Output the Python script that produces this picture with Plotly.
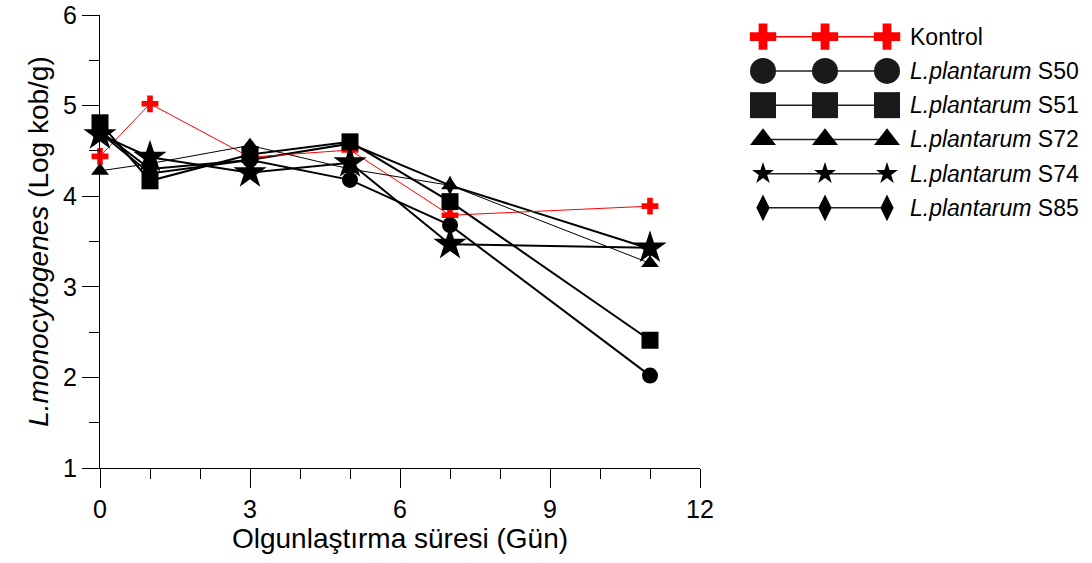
import plotly.graph_objects as go

# ---- data ----
days = [0, 1, 3, 5, 7, 11]
kontrol = [4.44, 5.02, 4.43, 4.51, 3.79, 3.89]
s50 = [4.70, 4.25, 4.40, 4.18, 3.68, 2.02]
s51 = [4.81, 4.17, 4.46, 4.60, 3.94, 2.41]
s72 = [4.28, 4.36, 4.56, 4.30, 4.12, 3.26]
s74 = [4.68, 4.43, 4.26, 4.37, 3.47, 3.43]
s85 = [4.72, 4.30, 4.40, 4.58, 4.12, 3.42]

series_names = ["Kontrol", "<i>L.plantarum</i> S50", "<i>L.plantarum</i> S51",
                "<i>L.plantarum</i> S72", "<i>L.plantarum</i> S74", "<i>L.plantarum</i> S85"]
series_values = [kontrol, s50, s51, s72, s74, s85]

x_ticks = [0, 3, 6, 9, 12]
y_ticks = [1, 2, 3, 4, 5, 6]

# ---- styles ----
colors = ["#ff0000", "#000000", "#000000", "#000000", "#000000", "#000000"]
symbols = ["cross", "circle", "square", "triangle-up", "star", "diamond-tall"]
plot_sizes = [14, 16, 17, 15.5, 25, 14]
plot_widths = [1, 2, 2, 1, 2, 2]
legend_sizes = [22, 26, 26, 22.5, 16.5, 19]
legend_line_colors = ["#ff0000", "#222222", "#222222", "#222222", "#222222", "#222222"]
legend_marker_colors = ["#ff0000", "#1a1a1a", "#1a1a1a", "#000000", "#000000", "#000000"]
draw_order = [5, 0, 3, 1, 2, 4]

FONT = "Liberation Sans, Arial, sans-serif"

L, R, T, B = 100, 2, 15.3, 95
PW = 1092 - L - R
PH = 563 - T - B

fig = go.Figure()

for i in draw_order:
    fig.add_trace(go.Scatter(
        x=days, y=series_values[i], mode="lines+markers", name=series_names[i],
        line=dict(color=colors[i], width=plot_widths[i]),
        marker=dict(symbol=symbols[i], size=plot_sizes[i], color=colors[i],
                    line=dict(width=0)),
        cliponaxis=False, showlegend=False,
    ))

# ---- custom legend (three markers per row) ----
legend_x = [0.5, 1.5, 2.5]
for i in range(len(series_names)):
    fig.add_trace(go.Scatter(
        x=legend_x, y=[i] * 3, mode="lines+markers", xaxis="x2", yaxis="y2",
        line=dict(color=legend_line_colors[i], width=1.5),
        marker=dict(symbol=symbols[i], size=legend_sizes[i],
                    color=legend_marker_colors[i], line=dict(width=0)),
        cliponaxis=False, showlegend=False, hoverinfo="skip",
    ))
    fig.add_annotation(
        text=series_names[i], xref="paper", yref="y2",
        x=(908 - L) / PW, y=i, xanchor="left", yanchor="middle",
        showarrow=False, font=dict(family=FONT, size=23, color="#000000"),
    )

axis_common = dict(
    showgrid=False, zeroline=False, showline=True, linecolor="#000000", linewidth=1,
    ticks="outside", tickcolor="#000000", tickwidth=1, automargin=False,
    tickfont=dict(family=FONT, size=25, color="#000000"),
)

fig.update_layout(
    width=1092, height=563,
    margin=dict(l=L, r=R, t=T, b=B),
    paper_bgcolor="white", plot_bgcolor="white",
    xaxis=dict(
        domain=[0, 600 / PW], range=[0, 12], tickvals=x_ticks, ticklen=19,
        minor=dict(dtick=1, ticklen=10, tickcolor="#000000", ticks="outside", showgrid=False),
        title=dict(text="Olgunlaştırma süresi (Gün)", standoff=4,
                   font=dict(family=FONT, size=28, color="#000000")),
        anchor="y",
        **axis_common,
    ),
    yaxis=dict(
        domain=[0, 1], range=[1, 6], tickvals=y_ticks, ticklen=17,
        minor=dict(dtick=0.5, ticklen=10, tickcolor="#000000", ticks="outside", showgrid=False),
        title=dict(text="<i>L.monocytogenes</i> (Log kob/g)", standoff=6,
                   font=dict(family=FONT, size=28, color="#000000")),
        anchor="x",
        **axis_common,
    ),
    xaxis2=dict(domain=[(732 - L) / PW, (918 - L) / PW], range=[0, 3],
                visible=False, anchor="y2"),
    yaxis2=dict(domain=[(563 - B - 225.15) / PH, (563 - B - 19.85) / PH], range=[5.5, -0.5],
                visible=False, anchor="x2"),
    showlegend=False,
)

fig.write_html("out.html",
               config={"displayModeBar": False},
               post_script="document.body.style.margin='0';document.body.style.padding='0';")
